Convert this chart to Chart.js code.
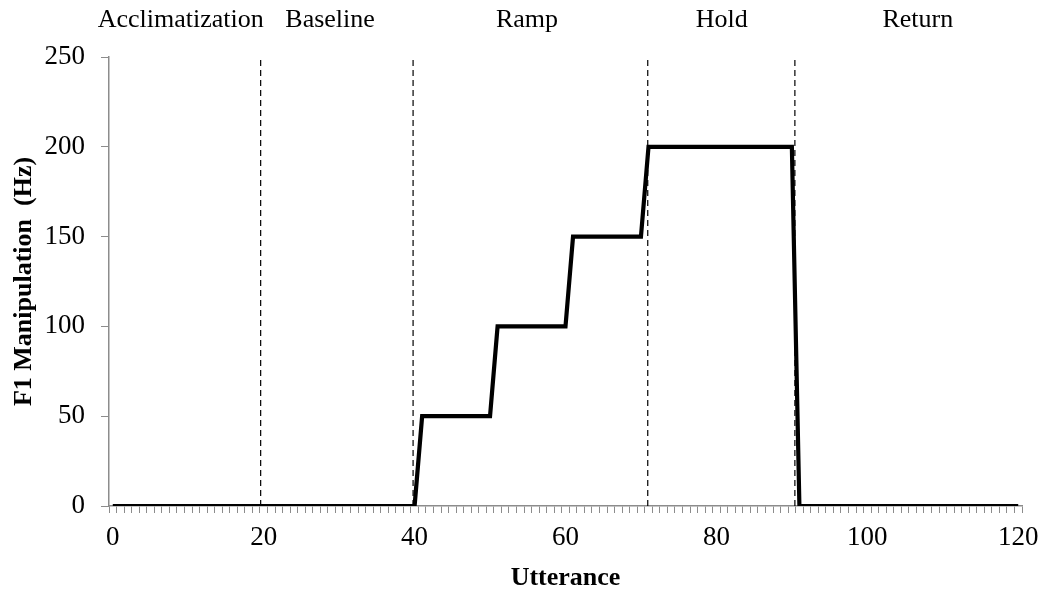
<!DOCTYPE html>
<html>
<head>
<meta charset="utf-8">
<script src="https://cdn.jsdelivr.net/npm/chart.js@4"></script>
<style>
  html, body { margin: 0; background: #fff; }
  canvas { display: block; }
</style>
</head>
<body>
<canvas id="f1Chart" width="1043" height="591"></canvas>
<script>
// utterance numbers (x categories)
const utterance = [
  0, 1, 2, 3, 4, 5, 6, 7, 8, 9,
  10, 11, 12, 13, 14, 15, 16, 17, 18, 19,
  20, 21, 22, 23, 24, 25, 26, 27, 28, 29,
  30, 31, 32, 33, 34, 35, 36, 37, 38, 39,
  40, 41, 42, 43, 44, 45, 46, 47, 48, 49,
  50, 51, 52, 53, 54, 55, 56, 57, 58, 59,
  60, 61, 62, 63, 64, 65, 66, 67, 68, 69,
  70, 71, 72, 73, 74, 75, 76, 77, 78, 79,
  80, 81, 82, 83, 84, 85, 86, 87, 88, 89,
  90, 91, 92, 93, 94, 95, 96, 97, 98, 99,
  100, 101, 102, 103, 104, 105, 106, 107, 108, 109,
  110, 111, 112, 113, 114, 115, 116, 117, 118, 119,
  120
];

// F1 shift per utterance (Hz)
const shiftHz = [
  0, 0, 0, 0, 0, 0, 0, 0, 0, 0,
  0, 0, 0, 0, 0, 0, 0, 0, 0, 0,
  0, 0, 0, 0, 0, 0, 0, 0, 0, 0,
  0, 0, 0, 0, 0, 0, 0, 0, 0, 0,
  0, 50, 50, 50, 50, 50, 50, 50, 50, 50,
  50, 100, 100, 100, 100, 100, 100, 100, 100, 100,
  100, 150, 150, 150, 150, 150, 150, 150, 150, 150,
  150, 200, 200, 200, 200, 200, 200, 200, 200, 200,
  200, 200, 200, 200, 200, 200, 200, 200, 200, 200,
  200, 0, 0, 0, 0, 0, 0, 0, 0, 0,
  0, 0, 0, 0, 0, 0, 0, 0, 0, 0,
  0, 0, 0, 0, 0, 0, 0, 0, 0, 0,
  0
];

// phase labels on top and the dashed boundaries between them
const phaseNames = ['Acclimatization', 'Baseline', 'Ramp', 'Hold', 'Return'];
const phaseCenters = [9.0, 28.8, 54.9, 80.7, 106.7];
const phaseBounds = [19.6, 39.8, 70.9, 90.4];

const AXIS = '#8c8c8c';
const FONT = '"Liberation Serif", "Times New Roman", serif';
Chart.defaults.font.family = FONT;
Chart.defaults.color = '#000';

const datasets = [{
  data: shiftHz,
  xAxisID: 'x',
  borderColor: '#000',
  borderWidth: 4.2,
  borderJoinStyle: 'miter',
  pointRadius: 0,
  tension: 0,
  order: 0,
}];
phaseBounds.forEach(b => {
  datasets.push({
    data: [{ x: b, y: 0 }, { x: b, y: 250 }],
    xAxisID: 'xp',
    borderColor: '#000',
    borderWidth: 1.2,
    borderDash: [6, 4],
    pointRadius: 0,
    order: 1,
  });
});

new Chart(document.getElementById('f1Chart'), {
  type: 'line',
  data: { labels: utterance, datasets },
  options: {
    responsive: false,
    animation: false,
    layout: { padding: { left: 0, right: 21, top: 0, bottom: 0 } },
    plugins: { legend: { display: false }, tooltip: { enabled: false } },
    scales: {
      x: {
        type: 'category',
        position: 'bottom',
        offset: true,
        grid: { offset: true, drawOnChartArea: false, tickLength: 7, color: AXIS },
        border: { color: AXIS, width: 1.5 },
        ticks: {
          autoSkip: false, maxRotation: 0, padding: 9,
          font: { size: 27 },
          callback: (v, i) => utterance[i] % 20 === 0 ? String(utterance[i]) : '',
        },
        title: { display: true, text: 'Utterance', font: { size: 26, weight: 'bold', lineHeight: 1 }, padding: 0 },
        afterFit: s => { s.height = 85; s.paddingLeft = 0; s.paddingRight = 0; },
      },
      xp: {
        type: 'linear',
        position: 'top',
        min: -0.5, max: 120.5,
        grid: { display: false, drawTicks: false },
        border: { display: false },
        afterBuildTicks: s => { s.ticks = phaseCenters.map(v => ({ value: v })); },
        ticks: { padding: 21, font: { size: 26 }, maxRotation: 0, callback: (v, i) => phaseNames[i] },
        afterFit: s => { s.height = 57; s.paddingLeft = 0; s.paddingRight = 0; },
      },
      y: {
        min: 0, max: 250,
        grid: { drawOnChartArea: false, tickLength: 8, color: AXIS },
        border: { color: AXIS, width: 1.5 },
        ticks: { stepSize: 50, padding: 16, font: { size: 27 } },
        title: { display: true, text: 'F1 Manipulation  (Hz)', font: { size: 26, weight: 'bold' }, padding: { top: 9, bottom: 4 } },
        afterFit: s => { s.width = 109; },
      },
    },
  },
});
</script>
</body>
</html>
